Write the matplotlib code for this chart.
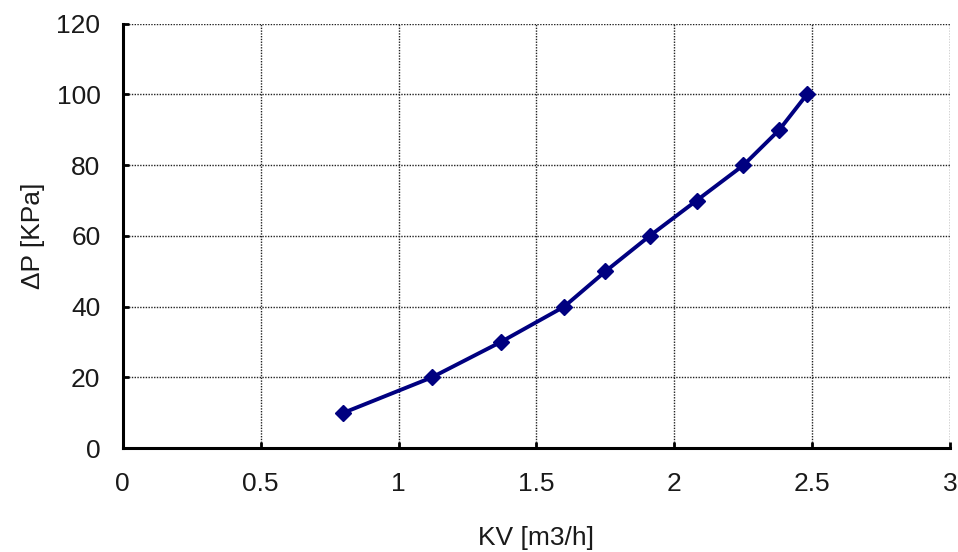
import numpy as np
import matplotlib.pyplot as plt

plt.rcParams['font.family'] = ['Liberation Sans', 'DejaVu Sans']

# 数据
kv = [0.80, 1.12, 1.37, 1.60, 1.75, 1.91, 2.08, 2.25, 2.38, 2.48]
dp = [10, 20, 30, 40, 50, 60, 70, 80, 90, 100]

line_color = '#000080'
text_color = '#1a1a1a'
fontsize_text = 19

fig = plt.figure(figsize=(9.58, 5.52), dpi=100)
ax = fig.add_axes([0.128, 0.188, 0.864, 0.769])

ax.plot(kv, dp, color=line_color, linewidth=2.8,
        marker='D', markersize=8.5, zorder=3)

ax.set_xlim(0, 3)
ax.set_ylim(0, 120)
ax.set_xticks(np.arange(0, 3.01, 0.5))
ax.set_xticklabels(['0', '0.5', '1', '1.5', '2', '2.5', '3'])
ax.set_yticks(np.arange(0, 121, 20))

ax.grid(True, color='#222222', linestyle=(0, (1, 1)), linewidth=1.0)
ax.set_axisbelow(True)

for s in ['top', 'right']:
    ax.spines[s].set_visible(False)
for s in ['left', 'bottom']:
    ax.spines[s].set_linewidth(2.2)
    ax.spines[s].set_color('black')

ax.tick_params(direction='in', length=4, width=2, labelsize=fontsize_text,
               colors='black', labelcolor=text_color)
ax.tick_params(axis='x', pad=17)
ax.tick_params(axis='y', pad=16)

ax.set_xlabel('KV [m3/h]', fontsize=fontsize_text, labelpad=22, color=text_color)
ax.set_ylabel('ΔP [KPa]', fontsize=fontsize_text, labelpad=8, color=text_color)

plt.savefig('out.png', dpi=100)
